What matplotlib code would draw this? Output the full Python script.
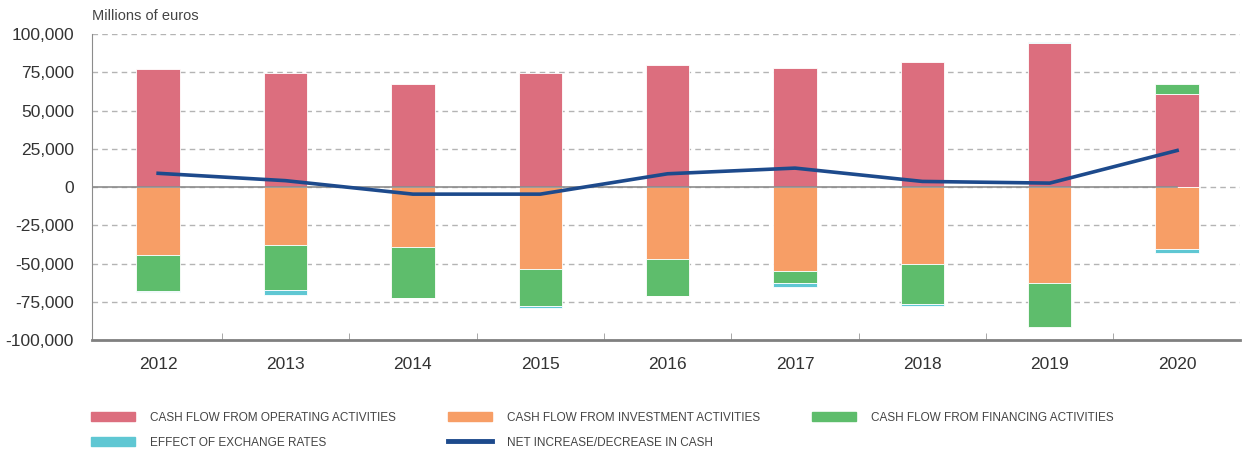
import numpy as np
import matplotlib
matplotlib.use("Agg")
import matplotlib.pyplot as plt
from matplotlib.patches import Patch
from matplotlib.lines import Line2D

years = ["2012", "2013", "2014", "2015", "2016", "2017", "2018", "2019", "2020"]
operating = [77200, 74800, 67200, 74500, 80000, 78000, 81700, 93900, 60900]
investment = [-44400, -37800, -39100, -53500, -46700, -54600, -50200, -62400, -40400]
financing = [-23200, -29600, -33100, -24300, -24200, -8200, -26300, -29100, 6500]
exchange = [-700, -3200, -300, -1100, -200, -2400, -1100, 600, -2800]
net = [9000, 4200, -4600, -4600, 8700, 12400, 3700, 2600, 23900]

labels = ["CASH FLOW FROM OPERATING ACTIVITIES", "CASH FLOW FROM INVESTMENT ACTIVITIES",
          "CASH FLOW FROM FINANCING ACTIVITIES", "EFFECT OF EXCHANGE RATES",
          "NET INCREASE/DECREASE IN CASH"]
colors = ["#dc6e7e", "#f79e66", "#5ebd6c", "#5fc7d3"]
line_color = "#1d4a8c"

plt.rcParams['font.family'] = ['Liberation Sans', 'DejaVu Sans']

fig = plt.figure(figsize=(12.42, 4.53), dpi=100)
ax = fig.add_axes([0.074, 0.249, 0.924, 0.676])

x = np.arange(len(years))
pos_base = np.zeros(len(years))
neg_base = np.zeros(len(years))
for series, col in zip([operating, investment, financing, exchange], colors):
    v = np.array(series, dtype=float)
    bottom = np.where(v >= 0, pos_base, neg_base)
    ax.bar(x, v, width=0.34, bottom=bottom, color=col, edgecolor="white",
           linewidth=0.6, zorder=3)
    pos_base = pos_base + np.where(v >= 0, v, 0)
    neg_base = neg_base + np.where(v < 0, v, 0)

ax.plot([-0.52, x[-1]], [0, 0], color="#8c8c8c", lw=1.2, zorder=4)
ax.plot(x, net, color=line_color, lw=2.6, zorder=5)

ax.set_xlim(-0.52, len(years) - 0.51)
ax.set_ylim(-100000, 100000)
ax.set_yticks(np.arange(-100000, 100001, 25000))
ax.set_yticklabels([f"{int(v):,}" for v in np.arange(-100000, 100001, 25000)])
ax.yaxis.grid(True, color="#b4b4b4", linestyle=(0, (4, 3)), lw=1.0, zorder=0)
ax.set_xticks(x)
ax.set_xticklabels(years)
ax.set_xticks(x[:-1] + 0.5, minor=True)
ax.tick_params(axis="x", which="major", length=0, pad=12, labelsize=12.5, colors="#333333")
ax.tick_params(axis="x", which="minor", length=5, direction="in", color="#999999")
ax.tick_params(axis="y", length=0, pad=13, labelsize=12.5, colors="#333333")

for s in ["top", "right"]:
    ax.spines[s].set_visible(False)
ax.spines["left"].set_color("#8c8c8c")
ax.spines["bottom"].set_color("#808080")
ax.spines["bottom"].set_linewidth(2)

fig.text(0.074, 0.955, "Millions of euros", fontsize=10.5, color="#444444")

handles = [Patch(color=colors[0]), Patch(color=colors[3]), Patch(color=colors[1]),
           Line2D([], [], color=line_color, lw=3.5), Patch(color=colors[2])]
leg_labels = [labels[0], labels[3], labels[1], labels[4], labels[2]]
leg = fig.legend(handles, leg_labels, ncol=3, loc="upper left",
                 bbox_to_anchor=(0.065, 0.115), frameon=False,
                 handlelength=3.7, handleheight=0.85, columnspacing=4.4,
                 labelspacing=1.1, handletextpad=1.3, fontsize=8.5)
for t in leg.get_texts():
    t.set_color("#444444")

fig.savefig("out.png", dpi=100)
